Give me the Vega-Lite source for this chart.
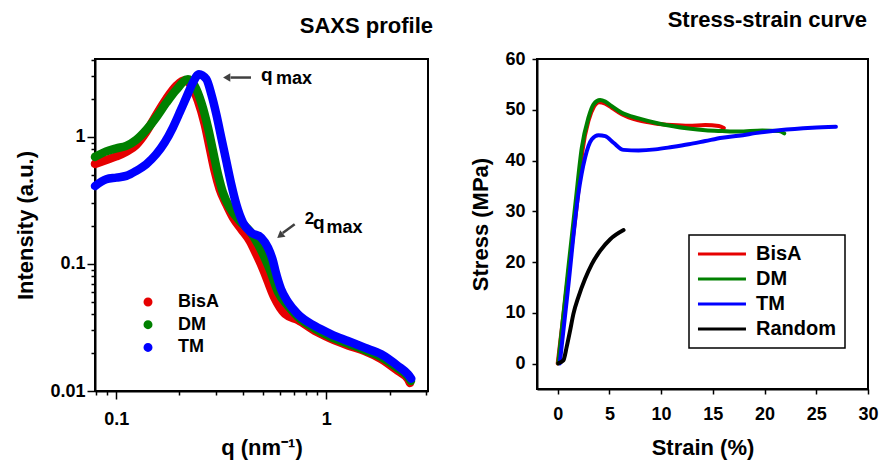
{
  "$schema": "https://vega.github.io/schema/vega-lite/v6.json",
  "background": "white",
  "padding": {"left": 13, "top": 8, "right": 5, "bottom": 5},
  "config": {
    "font": "Liberation Sans",
    "view": {"stroke": "black", "strokeWidth": 2},
    "axis": {
      "domainColor": "black", "domainWidth": 2, "tickColor": "black", "tickWidth": 1.5,
      "labelColor": "black", "titleColor": "black", "labelFontWeight": "bold", "labelFontSize": 18,
      "titleFontSize": 22, "titleFontWeight": "bold", "grid": false, "labelFlush": false, "labelOverlap": false
    },
    "title": {"fontSize": 22, "fontWeight": "bold", "color": "black", "anchor": "end"},
    "legend": {"labelFontWeight": "bold", "labelColor": "black", "title": null}
  },
  "spacing": 34,
  "resolve": {"scale": {"color": "independent"}, "legend": {"color": "independent"}},
  "hconcat": [
    {
      "width": 333,
      "height": 332,
      "title": {"text": "SAXS profile", "dx": 5, "offset": 13},
      "layer": [
        {
          "data": {"values": [
            {"sample": "BisA", "q": 0.0792, "I": 0.613}, {"sample": "BisA", "q": 0.0896, "I": 0.659},
            {"sample": "BisA", "q": 0.1, "I": 0.702}, {"sample": "BisA", "q": 0.1116, "I": 0.762},
            {"sample": "BisA", "q": 0.1245, "I": 0.865}, {"sample": "BisA", "q": 0.139, "I": 1.095},
            {"sample": "BisA", "q": 0.155, "I": 1.49}, {"sample": "BisA", "q": 0.173, "I": 1.99},
            {"sample": "BisA", "q": 0.193, "I": 2.52}, {"sample": "BisA", "q": 0.2117, "I": 2.79},
            {"sample": "BisA", "q": 0.2276, "I": 2.52}, {"sample": "BisA", "q": 0.2449, "I": 1.92},
            {"sample": "BisA", "q": 0.2636, "I": 1.26}, {"sample": "BisA", "q": 0.2785, "I": 0.824},
            {"sample": "BisA", "q": 0.294, "I": 0.54}, {"sample": "BisA", "q": 0.3107, "I": 0.388},
            {"sample": "BisA", "q": 0.334, "I": 0.295}, {"sample": "BisA", "q": 0.3595, "I": 0.2315},
            {"sample": "BisA", "q": 0.3937, "I": 0.1876}, {"sample": "BisA", "q": 0.4317, "I": 0.1518},
            {"sample": "BisA", "q": 0.4642, "I": 0.1192}, {"sample": "BisA", "q": 0.5023, "I": 0.0892},
            {"sample": "BisA", "q": 0.5636, "I": 0.055}, {"sample": "BisA", "q": 0.636, "I": 0.0404},
            {"sample": "BisA", "q": 0.733, "I": 0.0362}, {"sample": "BisA", "q": 0.881, "I": 0.0297},
            {"sample": "BisA", "q": 1.056, "I": 0.02567}, {"sample": "BisA", "q": 1.268, "I": 0.02282},
            {"sample": "BisA", "q": 1.524, "I": 0.02065}, {"sample": "BisA", "q": 1.827, "I": 0.01786},
            {"sample": "BisA", "q": 2.195, "I": 0.01437}, {"sample": "BisA", "q": 2.449, "I": 0.01243},
            {"sample": "BisA", "q": 2.503, "I": 0.01156},
            {"sample": "DM", "q": 0.0792, "I": 0.696}, {"sample": "DM", "q": 0.0896, "I": 0.769},
            {"sample": "DM", "q": 0.1, "I": 0.812}, {"sample": "DM", "q": 0.1116, "I": 0.849},
            {"sample": "DM", "q": 0.1245, "I": 0.947}, {"sample": "DM", "q": 0.139, "I": 1.135},
            {"sample": "DM", "q": 0.155, "I": 1.424}, {"sample": "DM", "q": 0.173, "I": 1.852},
            {"sample": "DM", "q": 0.193, "I": 2.344}, {"sample": "DM", "q": 0.2195, "I": 2.836},
            {"sample": "DM", "q": 0.2362, "I": 2.52}, {"sample": "DM", "q": 0.254, "I": 1.862},
            {"sample": "DM", "q": 0.2733, "I": 1.184}, {"sample": "DM", "q": 0.2887, "I": 0.776},
            {"sample": "DM", "q": 0.305, "I": 0.5085}, {"sample": "DM", "q": 0.3222, "I": 0.364},
            {"sample": "DM", "q": 0.3467, "I": 0.2775}, {"sample": "DM", "q": 0.387, "I": 0.218},
            {"sample": "DM", "q": 0.4317, "I": 0.182}, {"sample": "DM", "q": 0.473, "I": 0.143},
            {"sample": "DM", "q": 0.5088, "I": 0.112}, {"sample": "DM", "q": 0.5395, "I": 0.0892},
            {"sample": "DM", "q": 0.5888, "I": 0.0602}, {"sample": "DM", "q": 0.657, "I": 0.0467},
            {"sample": "DM", "q": 0.733, "I": 0.0383}, {"sample": "DM", "q": 0.881, "I": 0.031},
            {"sample": "DM", "q": 1.056, "I": 0.0266}, {"sample": "DM", "q": 1.268, "I": 0.02366},
            {"sample": "DM", "q": 1.524, "I": 0.02103}, {"sample": "DM", "q": 1.827, "I": 0.01852},
            {"sample": "DM", "q": 2.195, "I": 0.01504}, {"sample": "DM", "q": 2.449, "I": 0.013},
            {"sample": "DM", "q": 2.53, "I": 0.012},
            {"sample": "TM", "q": 0.0792, "I": 0.41}, {"sample": "TM", "q": 0.0896, "I": 0.464},
            {"sample": "TM", "q": 0.1, "I": 0.478}, {"sample": "TM", "q": 0.1116, "I": 0.493},
            {"sample": "TM", "q": 0.1245, "I": 0.54}, {"sample": "TM", "q": 0.139, "I": 0.61},
            {"sample": "TM", "q": 0.155, "I": 0.731}, {"sample": "TM", "q": 0.17, "I": 0.902},
            {"sample": "TM", "q": 0.186, "I": 1.184}, {"sample": "TM", "q": 0.2004, "I": 1.553},
            {"sample": "TM", "q": 0.2154, "I": 2.04}, {"sample": "TM", "q": 0.232, "I": 2.677},
            {"sample": "TM", "q": 0.2476, "I": 3.117}, {"sample": "TM", "q": 0.2683, "I": 2.85},
            {"sample": "TM", "q": 0.2834, "I": 2.17}, {"sample": "TM", "q": 0.2994, "I": 1.509},
            {"sample": "TM", "q": 0.3162, "I": 0.987}, {"sample": "TM", "q": 0.334, "I": 0.647},
            {"sample": "TM", "q": 0.3528, "I": 0.424}, {"sample": "TM", "q": 0.3727, "I": 0.295},
            {"sample": "TM", "q": 0.4012, "I": 0.2115}, {"sample": "TM", "q": 0.4395, "I": 0.1764},
            {"sample": "TM", "q": 0.49, "I": 0.161}, {"sample": "TM", "q": 0.5277, "I": 0.1343},
            {"sample": "TM", "q": 0.5574, "I": 0.1056}, {"sample": "TM", "q": 0.5716, "I": 0.0892},
            {"sample": "TM", "q": 0.6085, "I": 0.0636}, {"sample": "TM", "q": 0.657, "I": 0.0502},
            {"sample": "TM", "q": 0.733, "I": 0.0402}, {"sample": "TM", "q": 0.881, "I": 0.0325},
            {"sample": "TM", "q": 1.056, "I": 0.02796}, {"sample": "TM", "q": 1.268, "I": 0.02475},
            {"sample": "TM", "q": 1.524, "I": 0.02193}, {"sample": "TM", "q": 1.827, "I": 0.01945},
            {"sample": "TM", "q": 2.195, "I": 0.01573}, {"sample": "TM", "q": 2.449, "I": 0.01353},
            {"sample": "TM", "q": 2.54, "I": 0.0125}
          ]},
          "mark": {"type": "line", "strokeWidth": 8.5, "strokeCap": "round", "strokeJoin": "round", "interpolate": "monotone", "clip": false},
          "encoding": {
            "x": {
              "field": "q", "type": "quantitative",
              "scale": {"type": "log", "domain": [0.0792, 3.05], "nice": false},
              "axis": {
                "title": "q (nm⁻¹)",
                "values": [0.08, 0.09, 0.1, 0.2, 0.3, 0.4, 0.5, 0.6, 0.7, 0.8, 0.9, 1, 2, 3],
                "format": "~g",
                "labelExpr": "datum.value == 0.1 || datum.value == 1 ? datum.label : ''",
                "tickSize": {"condition": {"test": "datum.value == 0.1 || datum.value == 1", "value": 8}, "value": 4},
                "labelPadding": 11,
                "titlePadding": 9
              }
            },
            "y": {
              "field": "I", "type": "quantitative",
              "scale": {"type": "log", "domain": [0.01, 4.1], "nice": false},
              "axis": {
                "title": "Intensity (a.u.)",
                "values": [0.01, 0.02, 0.03, 0.04, 0.05, 0.06, 0.07, 0.08, 0.09, 0.1, 0.2, 0.3, 0.4, 0.5, 0.6, 0.7, 0.8, 0.9, 1, 2, 3, 4],
                "format": "~g",
                "labelExpr": "datum.value == 0.01 || datum.value == 0.1 || datum.value == 1 ? datum.label : ''",
                "tickSize": {"condition": {"test": "datum.value == 0.01 || datum.value == 0.1 || datum.value == 1", "value": 8}, "value": 4},
                "labelPadding": 2,
                "titlePadding": 12
              }
            },
            "color": {
              "field": "sample", "type": "nominal",
              "scale": {"domain": ["BisA", "DM", "TM"], "range": ["#e60000", "#008000", "#0000ff"]},
              "legend": {
                "orient": "none", "legendX": 44, "legendY": 234, "padding": 0,
                "symbolType": "circle", "symbolSize": 20, "symbolStrokeWidth": 4.5,
                "labelFontSize": 18, "labelOffset": 21, "rowPadding": -1.3
              }
            }
          }
        },
        {
          "data": {"values": [
            {"q": 0.438, "I": 2.93, "q2": 0.35, "I2": 2.93},
            {"q": 0.7071, "I": 0.2054, "q2": 0.62, "I2": 0.175}
          ]},
          "mark": {"type": "rule", "color": "#404040", "strokeWidth": 2.5},
          "encoding": {
            "x": {"field": "q", "type": "quantitative"},
            "x2": {"field": "q2"},
            "y": {"field": "I", "type": "quantitative"},
            "y2": {"field": "I2"}
          }
        },
        {
          "data": {"values": [
            {"q": 0.34, "I": 2.93, "heading": 270},
            {"q": 0.6085, "I": 0.1692, "heading": 231}
          ]},
          "mark": {"type": "point", "shape": "triangle", "filled": true, "color": "#404040", "size": 70, "opacity": 1},
          "encoding": {
            "x": {"field": "q", "type": "quantitative"},
            "y": {"field": "I", "type": "quantitative"},
            "angle": {"field": "heading", "type": "quantitative", "scale": null}
          }
        },
        {
          "data": {"values": [
            {"q": 0.489, "I": 2.77, "label": "q"},
            {"q": 0.864, "I": 0.187, "label": "q"}
          ]},
          "mark": {"type": "text", "align": "left", "baseline": "alphabetic", "fontSize": 19, "fontWeight": "bold", "color": "black"},
          "encoding": {
            "x": {"field": "q", "type": "quantitative"},
            "y": {"field": "I", "type": "quantitative"},
            "text": {"field": "label"}
          }
        },
        {
          "data": {"values": [
            {"q": 0.576, "I": 2.614, "label": "max"},
            {"q": 1.002, "I": 0.1754, "label": "max"}
          ]},
          "mark": {"type": "text", "align": "left", "baseline": "alphabetic", "fontSize": 18, "fontWeight": "bold", "color": "black"},
          "encoding": {
            "x": {"field": "q", "type": "quantitative"},
            "y": {"field": "I", "type": "quantitative"},
            "text": {"field": "label"}
          }
        },
        {
          "data": {"values": [
            {"q": 0.789, "I": 0.2047, "label": "2"}
          ]},
          "mark": {"type": "text", "align": "left", "baseline": "alphabetic", "fontSize": 17, "fontWeight": "bold", "color": "black"},
          "encoding": {
            "x": {"field": "q", "type": "quantitative"},
            "y": {"field": "I", "type": "quantitative"},
            "text": {"field": "label"}
          }
        }
      ]
    },
    {
      "width": 331,
      "height": 330,
      "title": {"text": "Stress-strain curve", "dx": -11, "offset": 18},
      "data": {"values": [
        {"sample": "BisA", "strain": 0, "stress": 0}, {"sample": "BisA", "strain": 1.0, "stress": 17.2},
        {"sample": "BisA", "strain": 1.95, "stress": 33}, {"sample": "BisA", "strain": 2.4, "stress": 42},
        {"sample": "BisA", "strain": 3.0, "stress": 48}, {"sample": "BisA", "strain": 3.5, "stress": 50.6},
        {"sample": "BisA", "strain": 4.0, "stress": 51.5}, {"sample": "BisA", "strain": 4.6, "stress": 51.2},
        {"sample": "BisA", "strain": 5.23, "stress": 50.4}, {"sample": "BisA", "strain": 6.2, "stress": 49.1},
        {"sample": "BisA", "strain": 7.82, "stress": 47.9}, {"sample": "BisA", "strain": 9.44, "stress": 47.3},
        {"sample": "BisA", "strain": 11.05, "stress": 47.0}, {"sample": "BisA", "strain": 12.66, "stress": 46.85},
        {"sample": "BisA", "strain": 14.28, "stress": 47.0}, {"sample": "BisA", "strain": 15.57, "stress": 46.8},
        {"sample": "BisA", "strain": 16.06, "stress": 46.4},
        {"sample": "DM", "strain": 0.05, "stress": 0}, {"sample": "DM", "strain": 1.0, "stress": 18.3},
        {"sample": "DM", "strain": 1.74, "stress": 32}, {"sample": "DM", "strain": 2.33, "stress": 42.5},
        {"sample": "DM", "strain": 2.97, "stress": 48.4}, {"sample": "DM", "strain": 3.46, "stress": 51.05},
        {"sample": "DM", "strain": 4.1, "stress": 51.9}, {"sample": "DM", "strain": 4.6, "stress": 51.6},
        {"sample": "DM", "strain": 5.23, "stress": 50.7}, {"sample": "DM", "strain": 6.2, "stress": 49.4},
        {"sample": "DM", "strain": 7.82, "stress": 48.3}, {"sample": "DM", "strain": 9.44, "stress": 47.45},
        {"sample": "DM", "strain": 11.05, "stress": 46.8}, {"sample": "DM", "strain": 12.66, "stress": 46.3},
        {"sample": "DM", "strain": 14.28, "stress": 45.95}, {"sample": "DM", "strain": 15.9, "stress": 45.8},
        {"sample": "DM", "strain": 17.5, "stress": 45.7}, {"sample": "DM", "strain": 19.77, "stress": 45.9},
        {"sample": "DM", "strain": 21.4, "stress": 45.8}, {"sample": "DM", "strain": 21.9, "stress": 45.35},
        {"sample": "TM", "strain": 0.2, "stress": 0}, {"sample": "TM", "strain": 1.0, "stress": 14.8},
        {"sample": "TM", "strain": 2.0, "stress": 33.5}, {"sample": "TM", "strain": 2.65, "stress": 40.6},
        {"sample": "TM", "strain": 3.3, "stress": 44.2}, {"sample": "TM", "strain": 3.94, "stress": 45.0},
        {"sample": "TM", "strain": 4.6, "stress": 44.8}, {"sample": "TM", "strain": 5.4, "stress": 43.5},
        {"sample": "TM", "strain": 6.37, "stress": 42.1}, {"sample": "TM", "strain": 7.82, "stress": 42.0},
        {"sample": "TM", "strain": 9.44, "stress": 42.2}, {"sample": "TM", "strain": 11.05, "stress": 42.67},
        {"sample": "TM", "strain": 12.66, "stress": 43.2}, {"sample": "TM", "strain": 14.28, "stress": 43.85},
        {"sample": "TM", "strain": 15.9, "stress": 44.5}, {"sample": "TM", "strain": 17.5, "stress": 44.9},
        {"sample": "TM", "strain": 19.5, "stress": 45.5}, {"sample": "TM", "strain": 21.4, "stress": 45.95},
        {"sample": "TM", "strain": 24.6, "stress": 46.45}, {"sample": "TM", "strain": 26.9, "stress": 46.65},
        {"sample": "Random", "strain": 0.07, "stress": 0.1}, {"sample": "Random", "strain": 0.55, "stress": 0.65},
        {"sample": "Random", "strain": 0.87, "stress": 3.3}, {"sample": "Random", "strain": 1.2, "stress": 6.5},
        {"sample": "Random", "strain": 1.52, "stress": 9.8}, {"sample": "Random", "strain": 2.0, "stress": 13.1},
        {"sample": "Random", "strain": 2.65, "stress": 16.7}, {"sample": "Random", "strain": 3.3, "stress": 19.6},
        {"sample": "Random", "strain": 4.1, "stress": 22.2}, {"sample": "Random", "strain": 5.08, "stress": 24.5},
        {"sample": "Random", "strain": 6.37, "stress": 26.3}
      ]},
      "mark": {"type": "line", "strokeWidth": 4, "strokeCap": "round", "strokeJoin": "round", "interpolate": "monotone"},
      "encoding": {
        "x": {
          "field": "strain", "type": "quantitative",
          "scale": {"domain": [-2, 30], "nice": false, "zero": false},
          "axis": {"title": "Strain (%)", "values": [0, 5, 10, 15, 20, 25, 30], "tickSize": 5, "labelPadding": 11, "titlePadding": 14}
        },
        "y": {
          "field": "stress", "type": "quantitative",
          "scale": {"domain": [-5, 60], "nice": false, "zero": false},
          "axis": {"title": "Stress (MPa)", "values": [0, 10, 20, 30, 40, 50, 60], "tickSize": 5, "labelPadding": 7, "titlePadding": 12}
        },
        "color": {
          "field": "sample", "type": "nominal",
          "scale": {"domain": ["BisA", "DM", "TM", "Random"], "range": ["#e60000", "#008000", "#0000ff", "black"]},
          "legend": {
            "orient": "none", "legendX": 152, "legendY": 176, "padding": 9,
            "strokeColor": "black",
            "symbolType": "M-1.67,0H6.33", "symbolSize": 144, "symbolStrokeWidth": 3,
            "labelFontSize": 20, "labelOffset": 38, "rowPadding": 5,
            "encode": {"legend": {"update": {"strokeWidth": {"value": 1.5}}}}
          }
        },
        "strokeWidth": {"condition": {"test": "datum.sample === 'Random'", "value": 5}, "value": 4}
      }
    }
  ]
}
